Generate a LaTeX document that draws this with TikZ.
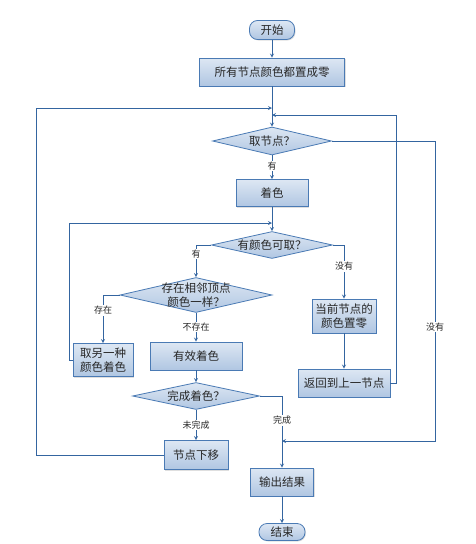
\documentclass[tikz,border=0pt]{standalone}
\usepackage{fontspec}
\setmainfont{Noto Sans CJK SC}
\usetikzlibrary{positioning,shapes.geometric,shadows}

\definecolor{boxline}{HTML}{4A7AB4}
\definecolor{flowline}{HTML}{3465A0}
\definecolor{boxtop}{HTML}{DDE7F3}
\definecolor{boxbottom}{HTML}{B0C6E2}

\begin{document}
\begin{tikzpicture}[x=1pt, y=-1pt, node distance=52pt, >=stealth,
    base/.style={draw=boxline, line width=0.8pt, top color=boxtop, bottom color=boxbottom,
        text=black!85, font=\fontsize{11.5}{14}\selectfont, align=center, inner sep=2pt},
    process/.style={base, rectangle, drop shadow={shadow xshift=1pt, shadow yshift=-1pt, opacity=0.25}},
    terminal/.style={process, rounded corners=8pt},
    decision/.style={base, diamond, aspect=4, inner sep=0pt, inner ysep=-4pt},
    lbl/.style={fill=white, inner sep=1pt, text=black!85, font=\fontsize{9}{10}\selectfont},
    line/.style={draw=flowline, line width=0.8pt}]
        \useasboundingbox (0,0) rectangle (476,544);

        % Node definitions
        \node (start) [terminal, minimum width=45pt, minimum height=19pt] at (272,30) {开始};

        \node (init) [process, minimum width=145pt, minimum height=28pt, below of=start, yshift=10pt] {所有节点颜色都置成零};

        \node (pick) [decision, minimum width=119pt, minimum height=28pt, below of=init, yshift=-17pt] {取节点？};

        \node (color) [process, minimum width=72pt, minimum height=27pt, below of=pick] {着色};

        \node (avail) [decision, minimum width=121pt, minimum height=27pt, below of=color] {有颜色可取？};

        \node (same) [decision, minimum width=152pt, minimum height=35pt, below of=avail, xshift=-76pt, yshift=2pt] {存在相邻顶点\\颜色一样？};

        \node (other) [process, minimum width=60pt, minimum height=33pt, below of=same, xshift=-93pt, yshift=-13pt] {取另一种\\颜色着色};

        \node (valid) [process, minimum width=92pt, minimum height=28pt, below of=same, yshift=-9pt] {有效着色};

        \node (done) [decision, minimum width=127pt, minimum height=27pt, below of=valid, yshift=12pt] {完成着色？};

        \node (next) [process, minimum width=64pt, minimum height=29pt, below of=done, yshift=-7pt] {节点下移};

        \node (reset) [process, minimum width=64pt, minimum height=34pt, below of=avail, xshift=72pt, yshift=-19pt] {当前节点的\\颜色置零};

        \node (back) [process, minimum width=92pt, minimum height=28pt, below of=reset, yshift=-15pt] {返回到上一节点};

        \node (output) [process, minimum width=63pt, minimum height=28pt, below of=done, xshift=86pt, yshift=-34pt] {输出结果};

        \node (end) [terminal, minimum width=46pt, minimum height=17pt, below of=output, yshift=2pt] {结束};

        % Loop corners
        \coordinate (loopNext) at (36,108);
        \coordinate (loopBack) at (396,115);
        \coordinate (loopOther) at (69,223);
        \coordinate (loopNone) at (435,441);

        % Connecting lines
        \draw[line, ->] (start) -- (init);
        \draw[line, ->] (init) -- (pick);
        \draw[line, ->] (pick) -- node[lbl, pos=0.44] {有} (color);
        \draw[line, ->] (color) -- (avail);
        \draw[line, ->] (avail.west) -| node[lbl, pos=0.64] {有} (same.north);
        \draw[line, ->] (avail.east) -| node[lbl, pos=0.70] {没有} (reset.north);
        \draw[line, ->] (same.west) -| node[lbl, pos=0.66] {存在} (other.north);
        \draw[line, ->] (same) -- node[lbl, pos=0.48] {不存在} (valid);
        \draw[line, ->] (valid) -- (done);
        \draw[line, ->] (done) -- node[lbl] {未完成} (next);
        \draw[line, ->] (done.east) -| node[lbl, pos=0.67] {完成} (output.north);
        \draw[line, ->] (output) -- (end);
        \draw[line, ->] (reset) -- (back);

        % Loops back
        \draw[line, ->] (other.west) -| (loopOther) -- (loopOther -| avail.north);
        \draw[line, ->] (next.west) -| (loopNext) -- (loopNext -| init.south);
        \draw[line, ->] (back.east) -| (loopBack) -- (loopBack -| init.south);
        \draw[line, ->] (pick.east) -| node[lbl, pos=0.81] {没有} (loopNone) -- (loopNone -| output.north);
    \end{tikzpicture}
\end{document}
